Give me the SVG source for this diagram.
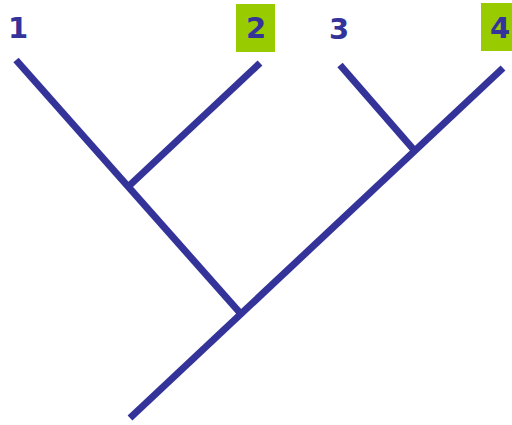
<svg xmlns="http://www.w3.org/2000/svg" width="512" height="425" viewBox="0 0 512 425">
<style>
.br{stroke:#333399;stroke-width:7;fill:none;stroke-linecap:butt}
.lb{font-family:"DejaVu Sans",sans-serif;font-weight:bold;font-size:29px;fill:#333399;text-anchor:middle}
.hl{fill:#99CC00}
</style>
<rect width="512" height="425" fill="#fff"/>
<g id="connectors">
<line class="br" x1="16" y1="60" x2="241" y2="314"/>
<line class="br" x1="260" y1="63" x2="130" y2="185"/>
<line class="br" x1="340" y1="65" x2="414" y2="150"/>
<line class="br" x1="130" y1="418" x2="503" y2="68"/>
</g>
<g id="node1"><text class="lb" x="18" y="38">1</text></g>
<g id="node2"><rect class="hl" x="236" y="4" width="39" height="48"/><text class="lb" x="256" y="38">2</text></g>
<g id="node3"><text class="lb" x="339" y="39">3</text></g>
<g id="node4"><rect class="hl" x="481" y="3" width="31" height="48"/><text class="lb" x="500" y="38">4</text></g>
</svg>
